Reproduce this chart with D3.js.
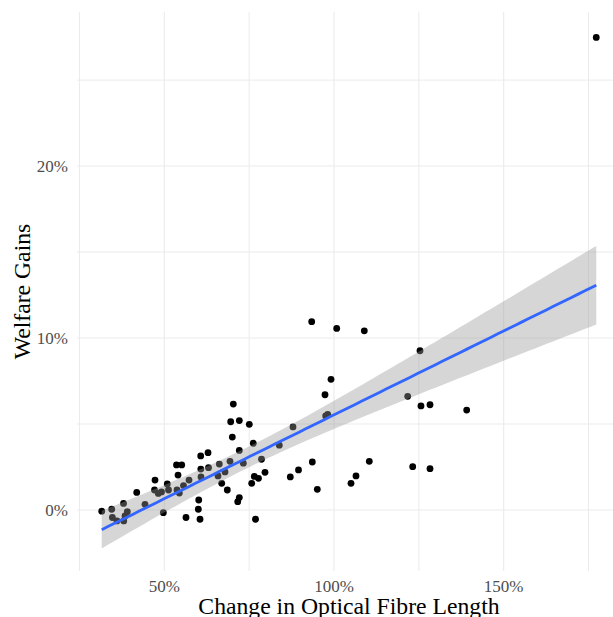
<!DOCTYPE html>
<html>
<head>
<meta charset="utf-8">
<script src="https://cdn.jsdelivr.net/npm/d3@7"></script>
<style>
  html, body { margin: 0; padding: 0; background: #ffffff; }
  svg { display: block; }
</style>
</head>
<body>
<script>
// ---- Data (percent values) ----
const fibreChange = [
  31.56, 34.50, 34.70, 36.05, 38.05, 37.98, 39.10, 38.42,
  41.87, 44.31, 47.26, 47.11, 48.23, 49.17, 49.71, 50.88, 51.24,
  53.59, 55.13, 54.04, 53.74, 54.43, 55.66, 57.28, 56.39,
  60.14, 60.02, 60.52, 60.72, 62.88, 60.75, 63.02, 60.81,
  65.82, 66.21, 67.88, 66.91, 68.56, 69.36, 70.04, 69.56, 70.33,
  72.10, 72.10, 73.28, 72.10, 71.63, 75.04, 76.22, 75.75, 76.52, 77.75, 76.87,
  78.64, 79.67, 83.88, 87.92, 87.12, 89.54, 93.43, 93.61, 95.08,
  97.35, 99.12, 97.55, 98.14, 100.80, 105.01, 106.48, 108.93, 110.40,
  121.72, 125.34, 125.63, 128.29, 123.19, 128.29, 139.10, 177.28
];
const welfareGain = [
  -0.07, 0.04, -0.44, -0.64, -0.64, 0.38, -0.10, -0.35,
  1.02, 0.33, 1.74, 1.16, 0.96, 1.05, -0.16, 1.51, 1.16,
  2.62, 2.62, 2.03, 1.16, 0.98, 1.42, 1.74, -0.44,
  0.58, 0.04, -0.54, 3.14, 3.33, 2.38, 2.46, 1.92,
  1.98, 2.67, 2.21, 1.55, 1.16, 2.83, 4.24, 5.13, 6.16,
  5.20, 3.46, 2.72, 0.72, 0.48, 4.98, 3.88, 1.55, 1.95, 1.84, -0.54,
  2.95, 2.19, 3.77, 4.83, 1.92, 2.33, 10.95, 2.79, 1.20,
  6.70, 7.60, 5.47, 5.56, 10.56, 1.55, 1.98, 10.42, 2.83,
  6.61, 9.26, 6.05, 6.12, 2.52, 2.40, 5.81, 27.48
];
const xLimits = [24.27, 184.57];
const yLimits = [-3.55, 28.96];
const xMajorTicks = [50, 100, 150];
const xMinorTicks = [25, 75, 125, 175];
const yMajorTicks = [0, 10, 20];
const yMinorTicks = [5, 15, 25];
const xTitle = "Change in Optical Fibre Length";
const yTitle = "Welfare Gains";

// ---- Layout ----
const W = 613, H = 617;
const panel = { left: 77, right: 621, top: 12, bottom: 571 };
const serif = "'Liberation Serif', 'Times New Roman', serif";

const svg = d3.select("body").append("svg")
  .attr("width", W).attr("height", H)
  .style("background", "#ffffff");

const x = d3.scaleLinear().domain(xLimits).range([panel.left, panel.right]);
const y = d3.scaleLinear().domain(yLimits).range([panel.bottom, panel.top]);

// Grid
const grid = svg.append("g");
grid.selectAll("line.xminor").data(xMinorTicks).join("line")
  .attr("x1", d => x(d)).attr("x2", d => x(d))
  .attr("y1", panel.top).attr("y2", panel.bottom)
  .attr("stroke", "#ebebeb").attr("stroke-width", 1);
grid.selectAll("line.yminor").data(yMinorTicks).join("line")
  .attr("y1", d => y(d)).attr("y2", d => y(d))
  .attr("x1", panel.left).attr("x2", panel.right)
  .attr("stroke", "#ebebeb").attr("stroke-width", 1);
grid.selectAll("line.xmajor").data(xMajorTicks).join("line")
  .attr("x1", d => x(d)).attr("x2", d => x(d))
  .attr("y1", panel.top).attr("y2", panel.bottom)
  .attr("stroke", "#ebebeb").attr("stroke-width", 1.1);
grid.selectAll("line.ymajor").data(yMajorTicks).join("line")
  .attr("y1", d => y(d)).attr("y2", d => y(d))
  .attr("x1", panel.left).attr("x2", panel.right)
  .attr("stroke", "#ebebeb").attr("stroke-width", 1.1);

// Points
const pts = fibreChange.map((v, i) => ({ x: v, y: welfareGain[i] }));
svg.append("g").selectAll("circle").data(pts).join("circle")
  .attr("cx", d => x(d.x)).attr("cy", d => y(d.y))
  .attr("r", 3.4).attr("fill", "#000000");

// Linear fit with 95% confidence band
const n = pts.length;
const mx = d3.mean(pts, d => d.x), my = d3.mean(pts, d => d.y);
const sxx = d3.sum(pts, d => (d.x - mx) ** 2);
const sxy = d3.sum(pts, d => (d.x - mx) * (d.y - my));
const slope = sxy / sxx, intercept = my - slope * mx;
const rss = d3.sum(pts, d => (d.y - (intercept + slope * d.x)) ** 2);
const sigma = Math.sqrt(rss / (n - 2));
const tq = 1.991;
const [xmin, xmax] = d3.extent(pts, d => d.x);
const fit = d3.range(0, 81).map(i => {
  const xv = xmin + (xmax - xmin) * i / 80;
  const yh = intercept + slope * xv;
  const se = sigma * Math.sqrt(1 / n + (xv - mx) ** 2 / sxx);
  return { x: xv, y: yh, lo: yh - tq * se, hi: yh + tq * se };
});

svg.append("path").datum(fit)
  .attr("d", d3.area().x(d => x(d.x)).y0(d => y(d.lo)).y1(d => y(d.hi)))
  .attr("fill", "#999999").attr("fill-opacity", 0.4);
svg.append("path").datum(fit)
  .attr("d", d3.line().x(d => x(d.x)).y(d => y(d.y)))
  .attr("fill", "none").attr("stroke", "#3366FF").attr("stroke-width", 2.8);

// Axis tick labels
const fmt = d => d + "%";
svg.append("g").selectAll("text").data(xMajorTicks).join("text")
  .attr("x", d => x(d)).attr("y", 591.5)
  .attr("text-anchor", "middle")
  .style("font-family", serif).style("font-size", "17px").attr("fill", "#4d4d4d")
  .text(fmt);
svg.append("g").selectAll("text").data(yMajorTicks).join("text")
  .attr("x", 68).attr("y", d => y(d) + 5.6)
  .attr("text-anchor", "end")
  .style("font-family", serif).style("font-size", "17px").attr("fill", "#4d4d4d")
  .text(fmt);

// Axis titles
svg.append("text")
  .attr("x", (panel.left + panel.right) / 2).attr("y", 614)
  .attr("text-anchor", "middle")
  .style("font-family", serif).style("font-size", "23.7px").attr("fill", "#000000")
  .text(xTitle);
svg.append("text")
  .attr("transform", `translate(30,${(panel.top + panel.bottom) / 2}) rotate(-90)`)
  .attr("text-anchor", "middle")
  .style("font-family", serif).style("font-size", "23.7px").attr("fill", "#000000")
  .text(yTitle);
</script>
</body>
</html>
